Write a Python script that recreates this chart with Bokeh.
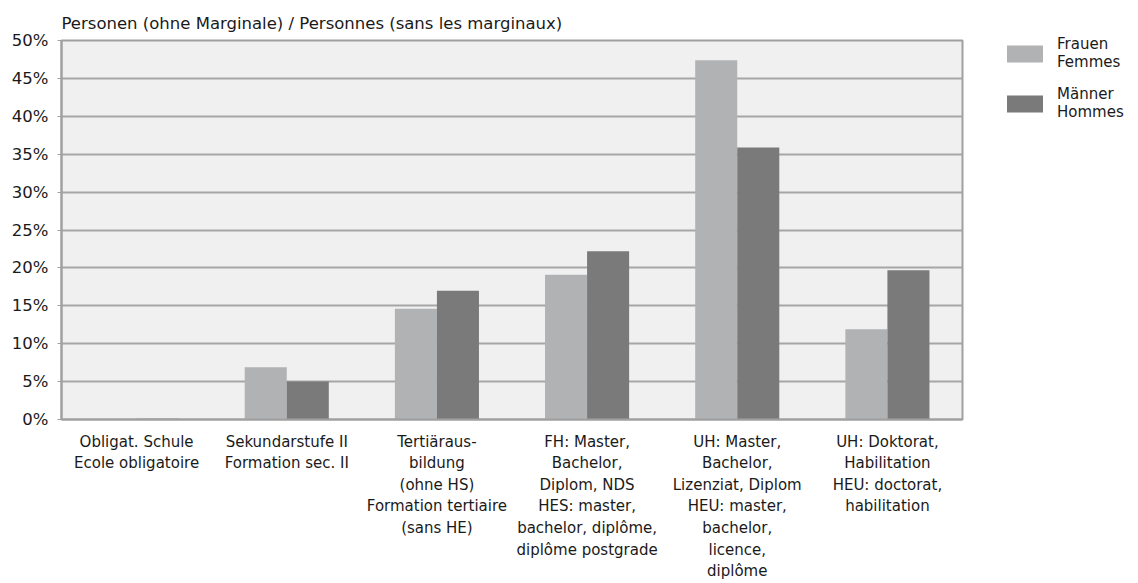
from bokeh.plotting import figure
from bokeh.models import (FactorRange, Range1d, FixedTicker, PrintfTickFormatter,
                          Legend, LegendItem)
from bokeh.transform import dodge
from bokeh.embed import file_html
from bokeh.resources import INLINE

categories = [
    "Obligat. Schule\nEcole obligatoire",
    "Sekundarstufe II\nFormation sec. II",
    "Tertiäraus-\nbildung\n(ohne HS)\nFormation tertiaire\n(sans HE)",
    "FH: Master,\nBachelor,\nDiplom, NDS\nHES: master,\nbachelor, diplôme,\ndiplôme postgrade",
    "UH: Master,\nBachelor,\nLizenziat, Diplom\nHEU: master,\nbachelor,\nlicence,\ndiplôme",
    "UH: Doktorat,\nHabilitation\nHEU: doctorat,\nhabilitation",
]
frauen = [0.0, 6.9, 14.6, 19.1, 47.4, 11.9]
maenner = [0.1, 5.0, 17.0, 22.2, 35.9, 19.7]
y_ticks = [0, 5, 10, 15, 20, 25, 30, 35, 40, 45, 50]

FONT = "DejaVu Sans"
TXT = "#1a1a1a"

p = figure(frame_width=901, frame_height=379, x_range=FactorRange(*categories),
           y_range=Range1d(0, 50), output_backend="svg", toolbar_location=None,
           min_border_left=61, min_border_right=0, min_border_top=40,
           min_border_bottom=0)
p.title.text = "Personen (ohne Marginale) / Personnes (sans les marginaux)"
p.title.text_font = FONT
p.title.text_font_size = "16.5px"
p.title.text_font_style = "normal"
p.title.text_color = TXT
p.title.align = "left"
p.title.offset = 0
p.title.standoff = 16

p.background_fill_color = "#f0f0f0"
p.border_fill_color = "white"
p.outline_line_color = "#a0a0a0"
p.outline_line_width = 2

src = dict(cat=categories, f=frauen, m=maenner)
r1 = p.vbar(x=dodge("cat", -0.14, range=p.x_range), top="f", width=0.28,
            source=src, fill_color="#b1b2b4", line_color=None)
r2 = p.vbar(x=dodge("cat", 0.14, range=p.x_range), top="m", width=0.28,
            source=src, fill_color="#7a7a7a", line_color=None)

p.ygrid.grid_line_color = "#a6a6a6"
p.ygrid.grid_line_width = 2
p.xgrid.grid_line_color = None
p.yaxis.ticker = FixedTicker(ticks=y_ticks)
p.yaxis.formatter = PrintfTickFormatter(format="%d%%")

for ax in (p.xaxis[0], p.yaxis[0]):
    ax.axis_line_color = "#a0a0a0"
    ax.axis_line_width = 2
    ax.major_label_text_font = FONT
    ax.major_label_text_font_size = "15px"
    ax.major_label_text_color = TXT
    ax.minor_tick_line_color = None
p.yaxis.major_label_text_font_size = "16.5px"
p.yaxis.major_tick_line_color = "#a0a0a0"
p.yaxis.major_tick_out = 4
p.yaxis.major_tick_in = 0
p.yaxis.major_label_standoff = 9
p.xaxis.major_tick_line_color = None
p.xaxis.major_label_standoff = 7
p.xaxis.major_label_text_line_height = 1.2
p.x_range.range_padding = 0
p.x_range.factor_padding = 0

legend = Legend(items=[LegendItem(label="Frauen\nFemmes", renderers=[r1]),
                       LegendItem(label="Männer\nHommes", renderers=[r2])],
                location=(40, 293), glyph_width=45, glyph_height=21,
                label_text_font=FONT, label_text_font_size="15px",
                label_text_color=TXT, label_standoff=10, spacing=4,
                label_text_line_height=1.4, border_line_color=None,
                background_fill_alpha=0, margin=0, padding=0,
                label_height=46, label_width=70)
legend.label_text_baseline = "top"
p.add_layout(legend, "right")
p.min_border_right = 166

open("out.html", "w").write(file_html(p, INLINE))
